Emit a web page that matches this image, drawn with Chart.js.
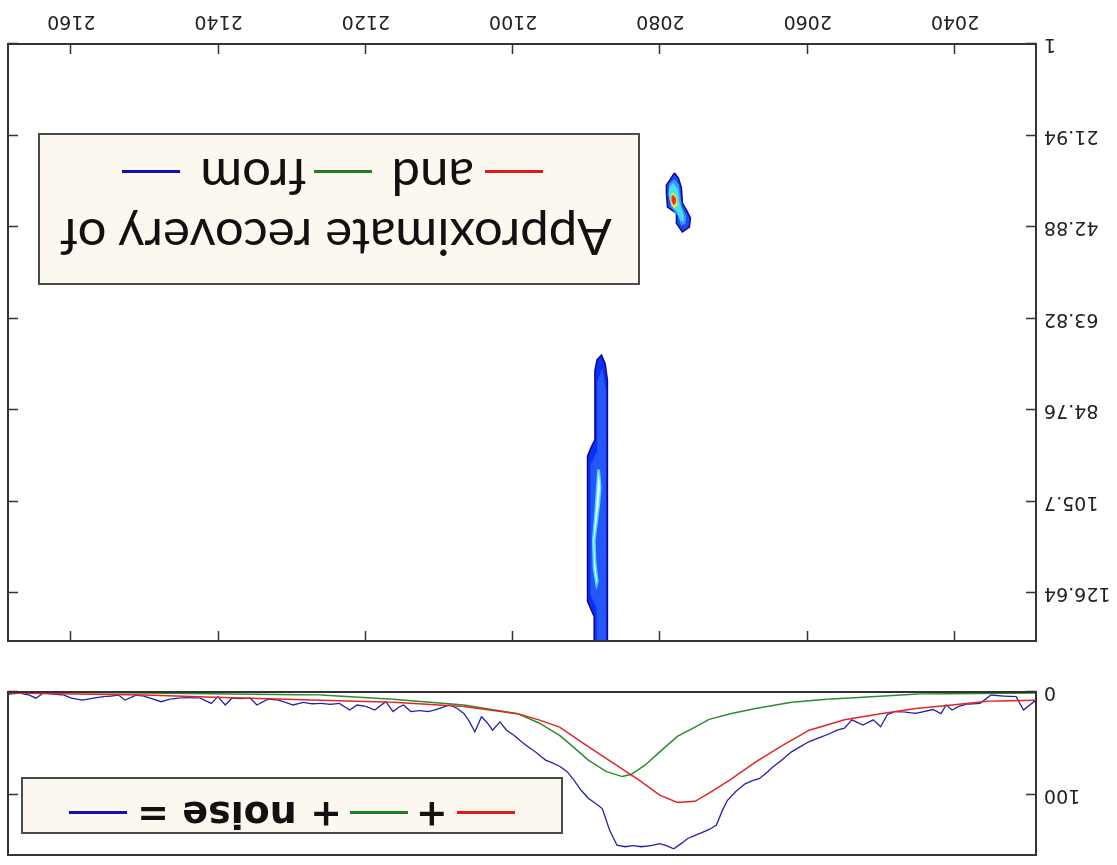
<!DOCTYPE html>
<html>
<head>
<meta charset="utf-8">
<script src="https://cdn.jsdelivr.net/npm/chart.js@4.4.0/dist/chart.umd.min.js"></script>
<style>
  html, body { margin: 0; padding: 0; background: #fff; overflow: hidden; }
  #page { position: absolute; left: 0; top: 0; width: 1117px; height: 865px; transform: rotate(180deg); transform-origin: 50% 50%; }
  #spec { position: absolute; left: 0; top: 0; }
  #map { position: absolute; left: 0; top: 213px; }
  .legend { position: absolute; box-sizing: border-box; background: #fcf7ef; border: 2px solid #4a4a4a; color: #111; }
  .legend .row { position: absolute; left: 0; right: 0; text-align: center; white-space: nowrap; }
  .sw { display: inline-block; width: 58px; height: 3px; vertical-align: middle; }
</style>
</head>
<body>
<div id="page">
  <canvas id="spec" width="1117" height="185"></canvas>
  <canvas id="map" width="1117" height="652"></canvas>

  <div class="legend" style="left:554px; top:31px; width:542px; height:57px;">
    <div class="row" style="top:-5px; line-height:50px; font: bold 38px 'DejaVu Sans', sans-serif;">
      <span class="sw" style="background:#e01818; margin:0 9px 0 0"></span>+<span class="sw" style="background:#208020; margin:0 8px"></span>+ noise =<span class="sw" style="background:#1010b0; margin:0 0 0 10px"></span>
    </div>
  </div>

  <div class="legend" style="left:477px; top:580px; width:602px; height:152px;">
    <div class="row" style="top:14px; line-height:56px; font: 51px Lato, sans-serif; padding-left:6px;">Approximate recovery of</div>
    <div class="row" style="top:74px; line-height:56px; font: 51px Lato, sans-serif; padding-left:13px;">
      <span class="sw" style="background:#e01818; margin:0 11px 0 0"></span>and<span class="sw" style="background:#208020; margin:0 8px 0 19px"></span>from<span class="sw" style="background:#1010b0; margin:0 0 0 20px"></span>
    </div>
  </div>
</div>

<script>
/* ===== axes ===== */
const xRange = [2029, 2168.6];
const xTicks = [2040, 2060, 2080, 2100, 2120, 2140, 2160];

const mapYRange = [1, 137.6];
const mapYTicks = [1, 21.94, 42.88, 63.82, 84.76, 105.7, 126.64];
const mapYLabels = ["1", "21.94", "42.88", "63.82", "84.76", "105.7", "126.64"];

const specYRange = [0, 158];
const specYTicks = [0, 100];

/* ===== 1D traces (bottom panel) ===== */
const greenX = [2029, 2045, 2052.5, 2057.4, 2062.2, 2067.1, 2070.5, 2073.4, 2075.3, 2077.7, 2080.1, 2082.1, 2084, 2085.2, 2087.4, 2089.8, 2092.2, 2093.7, 2096.5, 2099.4, 2106.7, 2116.3, 2126.1, 2150, 2168.6];
const greenY = [1, 2, 5, 7, 10, 16, 21, 26.5, 34, 43, 58, 71, 80, 82, 77, 66, 51, 42, 30, 21, 12.6, 7, 3, 1, 0];

const redX = [2029, 2035.6, 2040.4, 2045.3, 2050.1, 2055, 2059.8, 2063.7, 2067.1, 2070.5, 2073.4, 2075.3, 2077.7, 2080.1, 2083, 2086.4, 2089.8, 2093.7, 2096.5, 2099.4, 2106.7, 2116.3, 2126.1, 2140.6, 2150, 2168.6];
const redY = [8, 9, 12.6, 16, 21, 27, 37, 53, 68, 85, 98, 106, 107, 100, 85, 69, 53, 34, 27, 21, 14, 10, 8, 5, 3, 1];

const blueX = [2029, 2030.7, 2031.7, 2033.4, 2035.1, 2036.6, 2038.5, 2039.5, 2040.4, 2041.2, 2041.9, 2043, 2045.3, 2046.8, 2048.2, 2049.2, 2050.1, 2051.1, 2052.5, 2054, 2055, 2056, 2056.9, 2058.3, 2059.8, 2061, 2062.2, 2063.5, 2064.7, 2065.7, 2066.6, 2067.5, 2068.5, 2069.7, 2070.9, 2071.6, 2072.4, 2073.3, 2074.3, 2075.3, 2076.3, 2077.2, 2078.2, 2079.2, 2080.1, 2081.3, 2082.6, 2083.7, 2084.8, 2085.9, 2086.9, 2087.9, 2088.8, 2089.8, 2090.8, 2091.8, 2092.7, 2093.7, 2094.6, 2095.6, 2096.3, 2097, 2098, 2098.9, 2099.9, 2100.9, 2101.8, 2102.8, 2103.5, 2104.3, 2105.2, 2106, 2106.7, 2107.6, 2108.6, 2109.6, 2110.5, 2111.5, 2112.7, 2113.9, 2114.9, 2115.6, 2116.3, 2117.3, 2118.8, 2120, 2121.2, 2122.2, 2123.6, 2124.8, 2126.1, 2127.3, 2128.5, 2129.9, 2130.9, 2131.9, 2133.3, 2134.8, 2135.7, 2137, 2138.2, 2139.1, 2140.1, 2141, 2142.5, 2144, 2145.4, 2146.6, 2147.8, 2149.3, 2150.2, 2151.2, 2152.7, 2153.6, 2154.6, 2155.6, 2157, 2158.5, 2160, 2161, 2162.4, 2163.8, 2164.8, 2165.7, 2167, 2168.5];
const blueY = [7.8, 17.5, 4.5, 4, 2.9, 11, 12, 14, 17.5, 12.6, 21, 17, 20.7, 19.5, 19, 22, 33.7, 27, 32, 27, 35, 37, 40, 44, 48, 53, 58, 66, 72.5, 79, 84, 86, 89, 96, 105, 115, 129, 133, 136, 139, 142, 147, 152, 149, 147, 149, 150, 149, 150, 148.5, 134, 113, 108, 103, 95, 85, 77, 72, 69, 66, 62, 58, 53, 48, 42, 37, 29, 37, 30, 24, 38.5, 28, 20.7, 16, 12.6, 15, 17, 19, 18, 19, 12.6, 15, 19, 9.4, 17.5, 14, 12.6, 17.5, 11, 12, 11, 11.5, 10, 12.6, 10, 7.8, 7, 12.6, 6, 6.5, 6, 12.6, 4.5, 11, 6, 5.5, 6, 7, 9.4, 6, 4, 3, 7.8, 3, 4, 4.5, 6, 7.8, 6, 3, 2, 1, 6, 3, 1, 2];

/* ===== contour outlines (top panel), [x, y] pairs ===== */
const stripeOuter = [[2087.2,140],[2087.2,78],[2087.5,74.2],[2088.0,72.2],[2088.6,73.2],[2088.9,75.7],[2088.9,91.6],[2089.4,93.2],[2089.9,95.3],[2089.9,128.5],[2089.4,130.5],[2089.0,132],[2089.0,140]];
const stripeMid = [[2087.4,140],[2087.4,80],[2087.9,75.3],[2088.5,78],[2088.6,94.2],[2089.5,97.3],[2089.5,127],[2088.7,130],[2088.6,140]];
const stripeCore = [[2088.3,98.5],[2088.1,102.5],[2088.3,106.5],[2088.6,110.5],[2088.9,114.5],[2088.8,119.5],[2088.5,124],[2088.7,125.2],[2089.1,121],[2089.2,114.5],[2088.9,108.5],[2088.7,103.5],[2088.5,98.5]];

const blobOuter = [[2078.10,30.5],[2077.56,31.7],[2077.15,33.9],[2077.02,37.4],[2076.47,39.0],[2075.93,40.8],[2076.07,42.9],[2077.02,44.0],[2077.83,42.0],[2077.83,39.7],[2079.05,38.3],[2079.19,35.1],[2079.19,33.3]];
const blobL2 = [[2078.1,31.9],[2077.5,33.2],[2077.3,35.8],[2077.1,38.3],[2076.5,40.4],[2076.6,42.2],[2077.2,42.5],[2077.6,40.4],[2078.6,38.3],[2078.9,35.3],[2078.8,33.0]];
const blobL3 = [[2078.3,32.8],[2077.6,34.3],[2077.4,37.3],[2076.9,39.9],[2076.8,41.7],[2077.3,41.4],[2077.7,39.5],[2078.5,38.0],[2078.9,35.6],[2078.8,33.8]];
const blobL4 = [[2078.3,34.9],[2077.8,35.8],[2077.7,38.0],[2078.2,38.6],[2078.64,37.2],[2078.6,35.6]];
const blobL5 = [[2078.3,35.5],[2077.9,36.3],[2077.9,37.4],[2078.2,37.9],[2078.5,37.0],[2078.5,35.9]];

/* ===== helpers ===== */
const zip = (xs, ys) => xs.map((x, i) => ({ x, y: ys[i] }));
const poly = pairs => pairs.concat([pairs[0]]).map(p => ({ x: p[0], y: p[1] }));
const tickFont = { family: "DejaVu Sans", size: 19 };

// y axis: fixed width, and no extra room reserved for end labels
function fitY(s) {
  s.width = 81;
  s.paddingTop = 0;
  s.paddingBottom = 0;
}

// frame + inward ticks on all four sides
const boxTicks = {
  id: "boxTicks",
  afterDatasetsDraw(chart, args, opts) {
    const { ctx, chartArea: a, scales } = chart;
    const len = 10;
    ctx.save();
    ctx.strokeStyle = "#333";
    ctx.lineWidth = 1.5;
    ctx.beginPath();
    if (opts.x) {
      scales.x.ticks.forEach(t => {
        const px = Math.round(scales.x.getPixelForValue(t.value)) + 0.5;
        ctx.moveTo(px, a.bottom); ctx.lineTo(px, a.bottom - len);
        ctx.moveTo(px, a.top); ctx.lineTo(px, a.top + len);
      });
    }
    scales.y.ticks.forEach(t => {
      const py = Math.round(scales.y.getPixelForValue(t.value)) + 0.5;
      ctx.moveTo(a.left, py); ctx.lineTo(a.left + len, py);
      ctx.moveTo(a.right, py); ctx.lineTo(a.right - len, py);
    });
    ctx.stroke();
    ctx.lineWidth = 2;
    ctx.strokeRect(a.left, a.top, a.right - a.left, a.bottom - a.top);
    ctx.restore();
  }
};

function area(pairs, fill, stroke, width) {
  return {
    data: poly(pairs), showLine: true, fill: "shape", tension: 0,
    backgroundColor: fill, borderColor: stroke || fill, borderWidth: width || 0,
    pointRadius: 0
  };
}

/* ===== bottom panel: traces ===== */
new Chart(document.getElementById("spec"), {
  type: "scatter",
  data: {
    datasets: [
      { data: zip(redX, redY), showLine: true, borderColor: "#e02626", borderWidth: 1.5, pointRadius: 0 },
      { data: zip(greenX, greenY), showLine: true, borderColor: "#2f8a2f", borderWidth: 1.5, pointRadius: 0 },
      { data: zip(blueX, blueY), showLine: true, borderColor: "#2222a8", borderWidth: 1.3, pointRadius: 0 }
    ]
  },
  options: {
    responsive: false, animation: false, events: [],
    layout: { padding: { top: 10, right: 8, bottom: 12, left: 0 } },
    plugins: { legend: { display: false }, tooltip: { enabled: false }, boxTicks: { x: false } },
    scales: {
      x: { type: "linear", display: false, min: xRange[0], max: xRange[1] },
      y: {
        min: specYRange[0], max: specYRange[1],
        afterBuildTicks: s => { s.ticks = specYTicks.map(v => ({ value: v })); },
        afterFit: fitY,
        grid: { display: false, drawTicks: false }, border: { display: false },
        ticks: { font: tickFont, color: "#222", padding: 8, callback: v => String(v) }
      }
    }
  },
  plugins: [boxTicks]
});

/* ===== top panel: contour map ===== */
const layers = [
  area(stripeOuter, "#0c2ff2", "#08089a", 1.5),
  area(stripeMid, "#2456fa"),
  area(stripeCore, "#e6fbff", "#4fd8ff", 1.5),
  area(blobOuter, "#1d4cf0", "#0a0a9a", 1.5),
  area(blobL2, "#3f95ff"),
  area(blobL3, "#44e2ee"),
  area(blobL4, "#f2e24a"),
  area(blobL5, "#e8350f")
];
layers.forEach((d, i) => { d.order = layers.length - i; });

new Chart(document.getElementById("map"), {
  type: "scatter",
  data: { datasets: layers },
  options: {
    responsive: false, animation: false, events: [],
    layout: { padding: { top: 11, right: 8, bottom: 0, left: 0 } },
    plugins: { legend: { display: false }, tooltip: { enabled: false }, filler: { drawTime: "beforeDatasetDraw" }, boxTicks: { x: true } },
    scales: {
      x: {
        type: "linear", min: xRange[0], max: xRange[1],
        afterBuildTicks: s => { s.ticks = xTicks.map(v => ({ value: v })); },
        afterFit: s => { s.height = 44; },
        grid: { display: false, drawTicks: false }, border: { display: false },
        ticks: { font: tickFont, color: "#222", padding: 12, autoSkip: false, maxRotation: 0, callback: v => String(v) }
      },
      y: {
        min: mapYRange[0], max: mapYRange[1],
        afterBuildTicks: s => { s.ticks = mapYTicks.map(v => ({ value: v })); },
        afterFit: fitY,
        grid: { display: false, drawTicks: false }, border: { display: false },
        ticks: { font: tickFont, color: "#222", padding: 8, callback: (v, i) => mapYLabels[i] }
      }
    }
  },
  plugins: [boxTicks]
});
</script>
</body>
</html>
